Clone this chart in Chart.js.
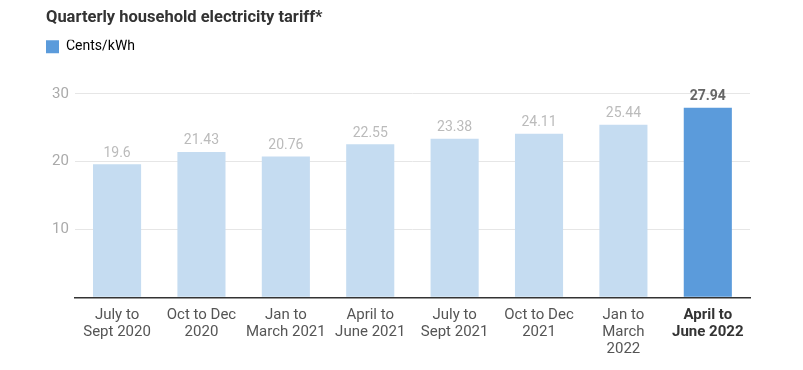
<!DOCTYPE html>
<html>
<head>
<meta charset="utf-8">
<script src="https://cdn.jsdelivr.net/npm/chart.js@4"></script>
<style>
  body { margin: 0; background: #fff; }
  #wrap { width: 803px; height: 370px; }
</style>
</head>
<body>
<div id="wrap"><canvas id="chart1"></canvas></div>
<script>
const quarters = [
  ["July to", "Sept 2020"],
  ["Oct to Dec", "2020"],
  ["Jan to", "March 2021"],
  ["April to", "June 2021"],
  ["July to", "Sept 2021"],
  ["Oct to Dec", "2021"],
  ["Jan to", "March", "2022"],
  ["April to", "June 2022"]
];
const tariffs = [19.6, 21.43, 20.76, 22.55, 23.38, 24.11, 25.44, 27.94];
const yTicks = [10, 20, 30];

const lightBlue = "#c5dcf1";
const darkBlue = "#5b9bdb";
const last = tariffs.length - 1;

// value labels above each bar
const barLabels = {
  id: "barLabels",
  afterDatasetsDraw(chart) {
    const ctx = chart.ctx;
    const meta = chart.getDatasetMeta(0);
    ctx.save();
    ctx.textAlign = "center";
    ctx.textBaseline = "bottom";
    meta.data.forEach((bar, i) => {
      if (i === last) {
        ctx.font = "bold 14px Roboto";
        ctx.fillStyle = "#666";
      } else {
        ctx.font = "14px Roboto";
        ctx.fillStyle = "#bbb";
      }
      ctx.fillText(String(tariffs[i]), bar.x, bar.y - 4);
    });
    ctx.restore();
  }
};

// extra space under the legend
const legendGap = {
  id: "legendGap",
  beforeInit(chart) {
    const fit = chart.legend.fit;
    chart.legend.fit = function () {
      fit.bind(chart.legend)();
      this.height += 30;
    };
  }
};

const ctx = document.getElementById("chart1").getContext("2d");
const myChart = new Chart(ctx, {
  type: "bar",
  data: {
    labels: quarters,
    datasets: [{
      label: "Cents/kWh",
      data: tariffs,
      backgroundColor: tariffs.map((v, i) => i === last ? darkBlue : lightBlue),
      barPercentage: 0.57,
      categoryPercentage: 1
    }]
  },
  options: {
    responsive: true,
    maintainAspectRatio: false,
    animation: false,
    layout: { padding: { left: 46, right: 53, top: 0, bottom: 3 } },
    plugins: {
      title: {
        display: true,
        text: "Quarterly household electricity tariff*",
        align: "start",
        color: "#333",
        font: { family: "Roboto", size: 16.5, weight: "bold" },
        padding: { top: 8, bottom: 12 }
      },
      legend: {
        display: true,
        align: "start",
        labels: {
          boxWidth: 13,
          boxHeight: 13,
          color: "#555",
          font: { family: "Roboto", size: 14 },
          padding: 0,
          generateLabels: () => [{
            text: "Cents/kWh",
            fillStyle: darkBlue,
            strokeStyle: darkBlue,
            lineWidth: 0,
            datasetIndex: 0
          }]
        }
      },
      tooltip: { enabled: false }
    },
    scales: {
      x: {
        grid: { display: false, drawTicks: false },
        border: { display: true, color: "#333", width: 1.5 },
        ticks: {
          padding: 9,
          maxRotation: 0,
          autoSkip: false,
          color: ctx => ctx.index === last ? "#333" : "#555",
          font: ctx => ({ family: "Roboto", size: 15, weight: ctx.index === last ? "bold" : "normal", lineHeight: 1.15 })
        }
      },
      y: {
        min: 0,
        max: 30,
        afterBuildTicks: axis => { axis.ticks = [0].concat(yTicks).map(v => ({ value: v })); },
        grid: {
          color: c => c.tick && c.tick.value === 0 ? "rgba(0,0,0,0)" : "#e6e6e6",
          drawTicks: false
        },
        border: { display: false },
        ticks: {
          padding: 6,
          color: "#aaa",
          font: { family: "Roboto", size: 15 },
          callback: v => v === 0 ? "" : v
        }
      }
    }
  },
  plugins: [barLabels, legendGap]
});
</script>
</body>
</html>
